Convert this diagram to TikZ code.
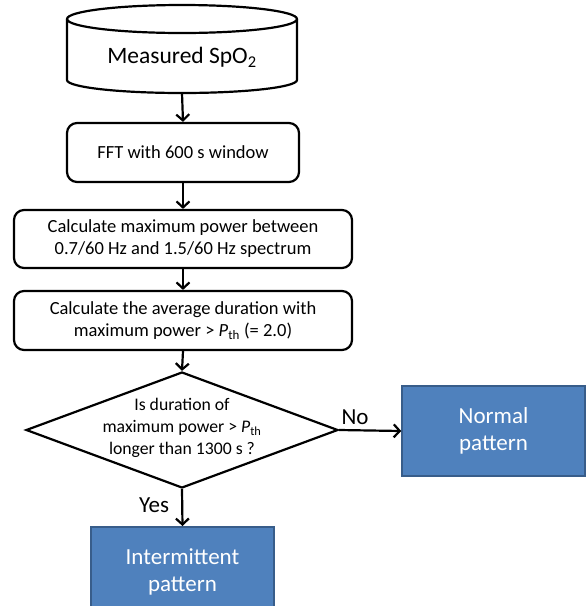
\documentclass[tikz,border=0pt]{standalone}
\usepackage{fontspec}
\setmainfont{Carlito}
\usetikzlibrary{arrows.meta,shapes.geometric}
\definecolor{boxblue}{HTML}{4F81BD}
\definecolor{boxedge}{HTML}{385D8A}
\tikzset{
  flow/.style={draw=black,line width=2.2pt,rounded corners=10pt,align=center,inner sep=0pt,font=\fontsize{18.5}{22}\selectfont},
  result/.style={draw=boxedge,line width=1.5pt,fill=boxblue,text=white,align=center,inner sep=0pt,font=\fontsize{23}{27}\selectfont},
  conn/.style={line width=2.2pt,-{Straight Barb[length=6pt,width=13pt,line width=2.2pt]}},
  lbl/.style={font=\fontsize{23}{26}\selectfont,inner sep=0pt}
}
\begin{document}
\begin{tikzpicture}[x=1pt,y=-1pt]
\useasboundingbox (0,0) rectangle (586,606);
\clip (0,0) rectangle (586,606);
% cylinder
\draw[line width=2.2pt,fill=white] (67,19) -- (67,80) arc[start angle=180,end angle=0,x radius=115,y radius=13] -- (297,19);
\draw[line width=2.2pt] (182,19) ellipse[x radius=115,y radius=14];
\node[inner sep=0pt,font=\fontsize{23.5}{26}\selectfont] (spo) at (182,57) {Measured SpO\textsubscript{2}};
\coordinate (cylb) at (182,93);
\node[flow,minimum width=232pt,minimum height=59pt] (fft) at (183,152.5) {FFT with 600 s window};
\node[flow,minimum width=338pt,minimum height=58pt] (calc) at (183,239) {Calculate maximum power between\\0.7/60 Hz and 1.5/60 Hz spectrum};
\node[flow,minimum width=338pt,minimum height=59pt] (avg) at (183,320.5) {Calculate the average duration with\\maximum power > \textit{P}\textsubscript{th} (= 2.0)};
\node[diamond,draw=black,line width=2.2pt,minimum width=312pt,minimum height=116pt,inner sep=0pt] (dec) at (182,430) {};
\node[align=center,font=\fontsize{17.7}{22}\selectfont,inner sep=0pt] (dect) at (182,428) {Is duration of\\maximum power > \textit{P}\textsubscript{th}\\longer than 1300 s ?};
\node[result,minimum width=183pt,minimum height=90pt] (norm) at (493.5,431) {Normal\\pattern};
\node[result,minimum width=183pt,minimum height=90pt,anchor=north] (inter) at (182.5,526) {Intermittent\\pattern};
\draw[conn] (cylb) -- (fft.north);
\draw[conn] (fft.south) -- (calc.north);
\draw[conn] (calc.south) -- (avg.north);
\draw[conn] (avg.south) -- (dec.north);
\draw[conn] (dec.east) -- (norm.west);
\draw[conn] (dec.south) -- (inter.north);
\node[lbl] (no) at (355,417) {No};
\node[lbl] (yes) at (154,505) {Yes};
\end{tikzpicture}
\end{document}
